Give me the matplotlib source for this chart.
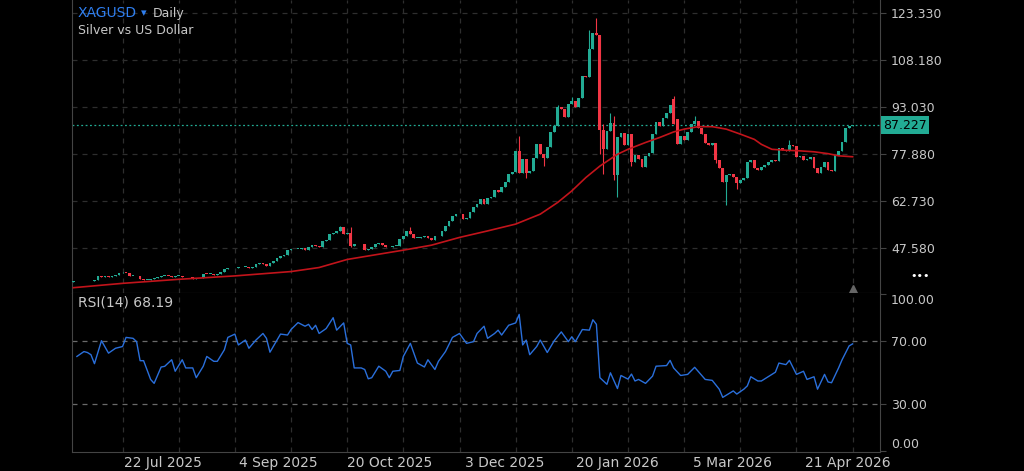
import numpy as np
import matplotlib
matplotlib.use("Agg")
import matplotlib.pyplot as plt
from matplotlib.transforms import blended_transform_factory

# daily closes, first candle is bar -1 (partly hidden at left edge)
closes = [
    36.8,
    37.0, 36.9, 37.1, 36.9, 37.0, 37.3, 38.6, 38.4, 38.5, 38.4,      # 0-9
    38.6, 39.0, 39.4, 39.6, 39.5, 38.6, 38.6, 38.5, 37.5, 37.3,      # 10-19
    37.4, 37.7, 38.0, 38.3, 38.6, 38.7, 38.6, 38.3, 38.6, 38.7,      # 20-29
    38.3, 38.1, 38.1, 37.7, 37.8, 37.8, 39.3, 39.2, 39.3, 39.0,      # 30-39
    39.2, 39.8, 40.7, 41.0, 41.1, 41.0, 41.4, 41.5, 41.6, 41.3,      # 40-49
    41.6, 42.3, 42.6, 42.4, 41.8, 42.8, 43.4, 44.3, 44.9, 45.3,      # 50-59
    47.0, 47.2, 47.3, 47.4, 47.6, 47.0, 48.0, 48.6, 48.3, 48.0,      # 60-69
    49.9, 50.3, 52.0, 52.3, 53.2, 54.2, 52.1, 52.3, 48.3, 48.9,      # 70-79
    48.8, 48.9, 47.0, 47.3, 48.0, 48.9, 49.1, 48.6, 47.8, 48.0,      # 80-89
    48.2, 48.3, 50.5, 51.5, 53.1, 52.1, 50.8, 50.8, 51.0, 51.4,      # 90-99
    50.8, 50.1, 51.3, 51.5, 53.1, 54.8, 56.4, 58.0, 58.5, 58.4,      # 100-109
    57.1, 57.4, 59.1, 60.7, 61.7, 63.3, 61.7, 63.8, 64.0, 66.3,      # 110-119
    65.5, 67.1, 69.0, 71.4, 72.1, 78.9, 71.9, 76.2, 71.9, 72.4,      # 120-129
    76.7, 81.0, 78.0, 76.7, 80.0, 85.1, 86.9, 93.0, 92.3, 89.8,      # 130-139
    93.9, 95.0, 93.0, 95.9, 103.1, 102.6, 111.7, 117.0, 116.3, 85.6, # 140-149
    79.5, 85.3, 87.8, 71.0, 83.3, 84.5, 80.8, 84.4, 75.3, 77.7,      # 150-159
    76.2, 73.6, 77.4, 78.3, 84.2, 88.1, 87.0, 89.5, 91.0, 93.7,      # 160-169
    87.5, 81.0, 83.7, 82.3, 85.0, 87.5, 88.6, 86.4, 84.3, 81.3,      # 170-179
    80.8, 81.3, 76.0, 73.3, 69.0, 71.1, 71.6, 70.5, 68.4, 69.4,      # 180-189
    70.0, 75.4, 75.9, 73.3, 72.8, 73.8, 74.3, 75.2, 75.8, 75.6,      # 190-199
    79.7, 79.2, 79.0, 80.8, 80.4, 77.0, 77.4, 76.0, 76.3, 76.8,      # 200-209
    73.3, 71.7, 73.8, 75.4, 72.6, 72.4, 77.6, 78.7, 81.9, 86.2,      # 210-219
    86.9, 87.227,                                                    # 220-221
]
first_open = 36.6
gap_opens = {170: 95.5, 171: 89.3}
wick_highs = {13: 39.9, 75: 54.8, 78: 54.5, 95: 54.3, 126: 83.7, 137: 93.6,
              141: 96.3, 146: 118.0, 148: 121.8, 150: 87.5, 152: 91.0,
              153: 90.0, 170: 96.5, 176: 90.0, 203: 82.5}
wick_lows = {78: 47.8, 128: 70.0, 133: 74.0, 149: 78.0, 150: 71.5, 153: 69.5,
             154: 64.0, 158: 74.0, 182: 75.0, 185: 61.5, 188: 66.5}

# moving average
ma_bars = [-1, 13, 29, 45, 61, 69, 77, 93, 101, 109, 117, 125, 132, 137, 141,
           145, 149, 154, 157, 162, 166, 170, 173, 177, 181, 185, 189, 193,
           195, 198, 202, 206, 210, 214, 217, 221]
ma_values = [34.8, 36.2, 37.5, 38.6, 40.0, 41.3, 43.9, 46.9, 48.5, 51.0, 53.1,
             55.3, 58.5, 62.3, 66.0, 70.3, 74.0, 77.8, 79.4, 81.6, 83.2, 85.0,
             85.9, 86.7, 86.7, 85.9, 84.3, 82.6, 81.0, 79.4, 79.1, 78.9, 78.6,
             78.0, 77.3, 77.0]

# RSI(14) line vertices
rsi_bars = [0, 2, 3, 4, 5, 7, 9, 11, 13, 14, 16, 17, 18, 19, 21, 22, 24, 25,
            27, 28, 30, 31, 33, 34, 36, 37, 39, 40, 42, 43, 45, 46, 48, 49, 51,
            53, 54, 55, 58, 60, 61, 63, 65, 66, 67, 68, 69, 71, 73, 74, 76, 77,
            78, 79, 81, 82, 83, 84, 86, 88, 89, 90, 92, 93, 95, 97, 99, 100,
            102, 103, 105, 107, 109, 111, 113, 114, 116, 117, 119, 120, 121,
            123, 125, 126, 127, 128, 129, 131, 132, 134, 136, 138, 140, 141,
            142, 144, 146, 147, 148, 149, 151, 152, 154, 155, 157, 158, 159,
            160, 162, 164, 165, 168, 169, 170, 172, 174, 176, 179, 181, 183,
            184, 187, 188, 190, 191, 192, 194, 195, 198, 199, 200, 202, 203,
            205, 207, 208, 210, 211, 213, 214, 215, 217, 218, 220, 221]
rsi_values = [60.2, 63.3, 62.7, 61.3, 55.6, 70.2, 62.3, 65.4, 66.5, 72.3, 71.7,
              69.6, 57.5, 57.5, 45.6, 43.1, 53.5, 53.9, 58.1, 50.8, 58.1, 52.9,
              52.9, 46.7, 54.0, 60.2, 57.1, 57.1, 64.4, 72.3, 74.4, 67.5, 70.6,
              65.4, 70.6, 74.8, 71.7, 62.9, 74.4, 73.8, 77.3, 81.7, 79.4, 80.6,
              77.3, 80.0, 74.8, 77.9, 84.8, 76.9, 81.5, 68.5, 67.5, 52.9, 52.9,
              51.9, 46.0, 46.7, 54.0, 50.8, 46.7, 50.8, 51.3, 60.2, 68.5, 56.0,
              53.5, 58.1, 51.9, 57.1, 63.3, 72.3, 74.8, 68.5, 69.6, 74.8, 79.4,
              71.7, 74.8, 76.9, 73.8, 80.0, 81.5, 86.9, 67.5, 70.6, 61.3, 66.5,
              70.6, 62.7, 70.2, 75.8, 69.6, 72.7, 69.6, 77.3, 76.9, 83.5, 80.6,
              46.7, 42.5, 49.8, 39.8, 48.1, 45.8, 49.0, 44.6, 45.6, 43.1, 47.7,
              54.0, 54.4, 57.7, 52.9, 48.1, 48.8, 53.3, 45.6, 45.0, 39.4, 34.2,
              38.3, 36.3, 39.4, 41.5, 47.3, 44.6, 44.6, 48.8, 50.2, 56.0, 55.0,
              57.7, 48.8, 50.8, 45.6, 47.3, 39.4, 48.8, 44.0, 43.5, 52.9, 58.1,
              66.9, 68.19]

price_ticks = [47.58, 62.73, 77.88, 93.03, 108.18, 123.33]
date_labels = ["22 Jul 2025", "4 Sep 2025", "20 Oct 2025", "3 Dec 2025",
               "20 Jan 2026", "5 Mar 2026", "21 Apr 2026"]
date_bars = [24.5, 57.3, 89.2, 122.0, 154.1, 186.9, 219.7]
grid_bars = [13, 29, 45, 61, 77, 93, 109, 125, 141, 157, 173, 189, 205, 221]

GREEN = "#22ab94"
RED = "#f23645"
TXT = "#c8c8c8"
GRID = "#2e2e2e"
FRAME = "#444444"

W, H = 1024, 471
def fx(px):
    return px / W
def fy(py):
    return 1 - py / H

fig = plt.figure(figsize=(10.24, 4.71), dpi=100, facecolor="black")
ax = fig.add_axes([fx(72), fy(293), fx(880) - fx(72), fy(0) - fy(293)])
ax2 = fig.add_axes([fx(72), fy(452), fx(880) - fx(72), fy(293) - fy(452)], sharex=ax)

# build OHLC
bars = np.arange(len(closes)) - 1
c = np.array(closes)
o = np.array([first_open] + closes[:-1])
for b, v in gap_opens.items():
    o[b + 1] = v
hi = np.maximum(o, c)
lo = np.minimum(o, c)
for b, v in wick_highs.items():
    hi[b + 1] = v
for b, v in wick_lows.items():
    lo[b + 1] = v
colors = np.where(c >= o, GREEN, RED)

for a in (ax, ax2):
    a.set_facecolor("black")
    for b in grid_bars:
        a.axvline(b, color=GRID, lw=0.9, ls=(0, (4, 4)), zorder=0)
    for s in ("top", "left", "bottom", "right"):
        a.spines[s].set_color(FRAME)
    a.spines["top"].set_visible(False)
    a.yaxis.tick_right()
    a.tick_params(axis="y", colors=FRAME, labelcolor=TXT, labelsize=9,
                  length=4, width=0.8, pad=4)
    a.tick_params(axis="x", length=0)

# price panel
ax.set_xlim(-1.4, 228.8)
ax.set_ylim(33.09, 127.52)
for p in price_ticks:
    ax.axhline(p, color=GRID, lw=0.9, ls=(0, (4, 4)), zorder=0)
ax.set_yticks(price_ticks)
ax.set_yticklabels([f"{p:.3f}" for p in price_ticks])
ax.tick_params(axis="x", labelbottom=False)
ax.spines["bottom"].set_color("#555555")

ax.vlines(bars, lo, hi, colors=colors, lw=0.8, zorder=2)
ax.bar(bars, np.maximum(np.abs(c - o), 0.2), bottom=np.minimum(o, c),
       width=0.8, color=colors, linewidth=0, zorder=3)
ax.plot(ma_bars, ma_values, color="#c2141b", lw=1.2, zorder=4)

ax.axhline(c[-1], color=GREEN, lw=0.9, ls=(0, (1.5, 2)), zorder=1)
tr = blended_transform_factory(ax.transAxes, ax.transData)
ax.text(1.004, c[-1], f"{c[-1]:.3f}", transform=tr, ha="left", va="center",
        fontsize=9, color="black",
        bbox=dict(boxstyle="square,pad=0.2", fc=GREEN, ec="none"))
ax.plot([221], [0.012], marker="^", ms=6, color="#666666",
        transform=blended_transform_factory(ax.transData, ax.transAxes),
        clip_on=False, zorder=5)

# RSI panel
ax2.set_ylim(-0.5, 100.5)
for lvl in (30, 70):
    ax2.axhline(lvl, color="#6a6a6a", lw=0.9, ls=(0, (4, 4)), zorder=1)
ax2.set_yticks([0, 30, 70, 100])
ax2.set_yticklabels(["0.00", "30.00", "70.00", "100.00"])
ylabs = ax2.get_yticklabels()
ylabs[0].set_va("bottom")
ylabs[-1].set_va("top")
ax2.plot(rsi_bars, rsi_values, color="#2a6fdb", lw=1.0, zorder=3)
ax2.set_xticks(date_bars)
ax2.set_xticklabels(date_labels, color=TXT, fontsize=10)
ax2.tick_params(axis="x", pad=3)

# header texts
fig.text(fx(78), fy(13), "XAGUSD", color="#2f7ff0", fontsize=10, va="center")
fig.text(fx(141), fy(13), "\u25be", color="#2f7ff0", fontsize=8, va="center")
fig.text(fx(153), fy(13), "Daily", color=TXT, fontsize=9, va="center")
fig.text(fx(78), fy(30), "Silver vs US Dollar", color=TXT, fontsize=9, va="center")
fig.text(fx(78), fy(303), "RSI(14) 68.19", color=TXT, fontsize=10, va="center")
fig.text(fx(920), fy(276), "\u2022\u2022\u2022", color="white", fontsize=8,
         ha="center", va="center")

fig.savefig("out.png", dpi=100, facecolor="black")
